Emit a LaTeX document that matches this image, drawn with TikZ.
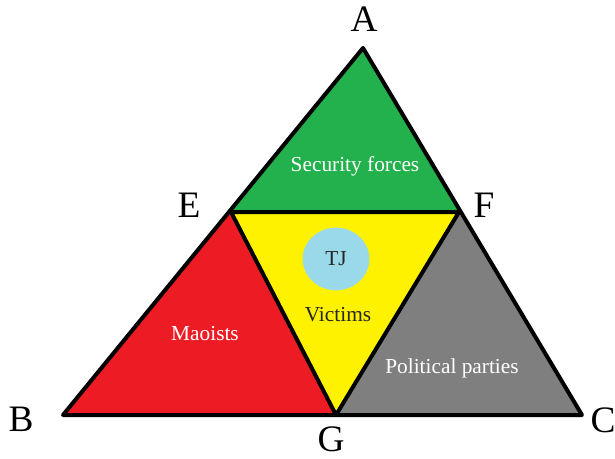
\documentclass[tikz,border=0pt]{standalone}
\usepackage{fontspec}
\setmainfont{Liberation Serif}
\usetikzlibrary{shapes.geometric}
\definecolor{pgreen}{RGB}{34,177,76}
\definecolor{pred}{RGB}{237,28,36}
\definecolor{pyellow}{RGB}{255,242,0}
\definecolor{pgray}{RGB}{127,127,127}
\definecolor{pblue}{RGB}{153,217,234}
\tikzset{
  part/.style={draw=black, line width=3pt, line join=round},
  vlabel/.style={font=\fontsize{28}{32}\selectfont, inner sep=0pt},
  wlabel/.style={text=white, font=\fontsize{16}{19}\selectfont, inner sep=0pt},
  dlabel/.style={text=black!85, font=\fontsize{16}{19}\selectfont, inner sep=0pt}
}
\begin{document}
\begin{tikzpicture}[x=0.75pt, y=-0.75pt]
\useasboundingbox (0,0) rectangle (615,458);
\coordinate (A) at (363,48);
\coordinate (B) at (63,415);
\coordinate (C) at (582,415);
\coordinate (E) at (231,212);
\coordinate (F) at (459,212);
\coordinate (G) at (336,415);
\fill[pgreen] (A) -- (E) -- (F) -- cycle;
\fill[pred] (E) -- (B) -- (G) -- cycle;
\fill[pgray] (F) -- (G) -- (C) -- cycle;
\fill[pyellow] (E) -- (F) -- (G) -- cycle;
\draw[part] (A) -- (B) -- (C) -- cycle;
\draw[part] (E) -- (F) -- (G) -- cycle;
\node[ellipse, fill=pblue, minimum width=50pt, minimum height=47pt, inner sep=0pt] (tj) at (336,259) {};
\node[dlabel] (tjt) at (336,259) {TJ};
\node[dlabel] (vic) at (338,315) {Victims};
\node[wlabel] (sec) at (355,166) {Security forces};
\node[wlabel] (mao) at (205,334) {Maoists};
\node[wlabel] (pol) at (452,368) {Political parties};
\node[vlabel] (lA) at (364,19) {A};
\node[vlabel] (lE) at (189,205) {E};
\node[vlabel] (lF) at (484,205) {F};
\node[vlabel] (lB) at (21,419) {B};
\node[vlabel] (lC) at (603,420) {C};
\node[vlabel] (lG) at (331,439) {G};
\end{tikzpicture}
\end{document}
